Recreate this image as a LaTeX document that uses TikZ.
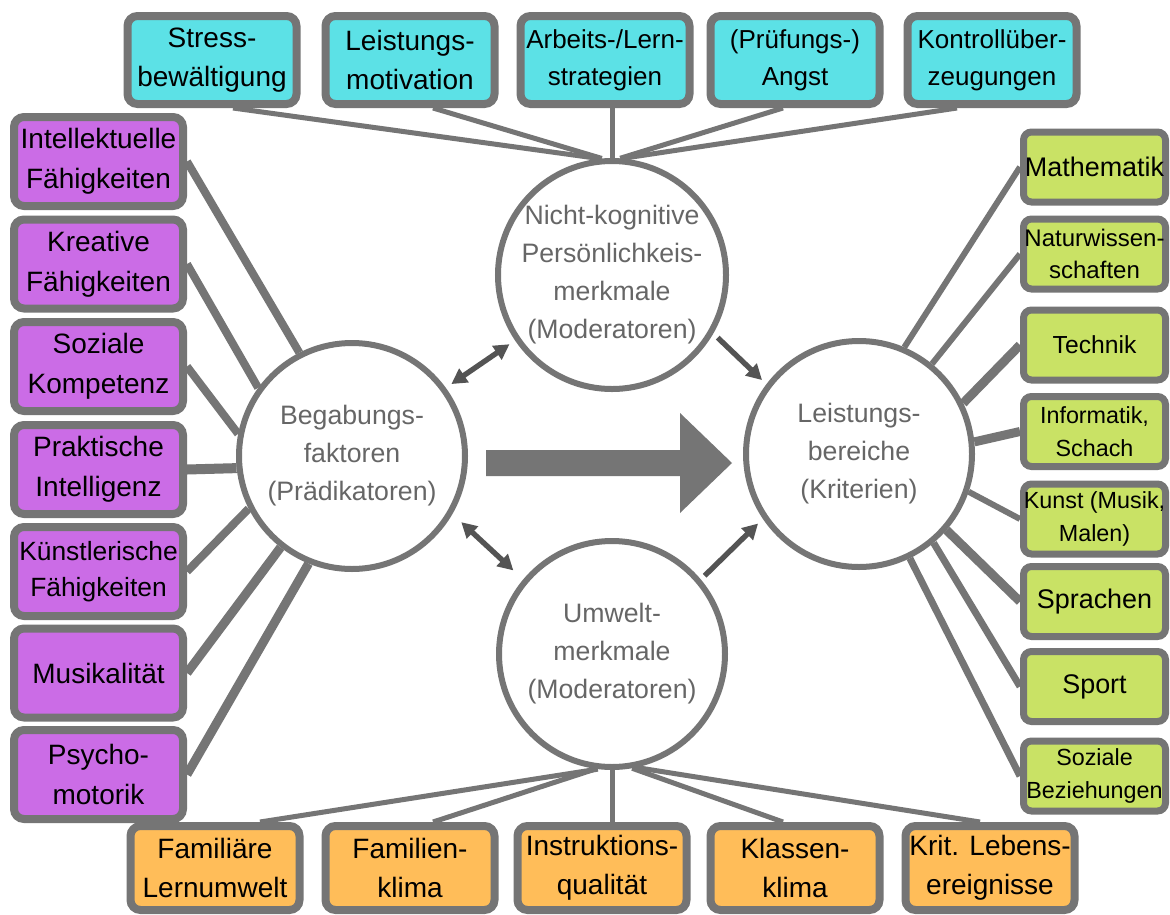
\documentclass[tikz,border=0pt]{standalone}
\usepackage{fontspec}
\setmainfont{Liberation Sans}
\usetikzlibrary{arrows.meta,backgrounds,calc}

\definecolor{edge}{HTML}{757575}
\definecolor{arrowgrey}{HTML}{545454}
\definecolor{circtext}{HTML}{666666}
\definecolor{cyanbox}{HTML}{5CE1E6}
\definecolor{violetbox}{HTML}{CB6CE6}
\definecolor{limebox}{HTML}{C9E265}
\definecolor{orangebox}{HTML}{FFBD59}

\begin{document}
\begin{tikzpicture}[x=0.75pt,y=-0.75pt,
  box/.style={draw=edge, line width=6pt, rounded corners=7.5pt, align=center,
    inner sep=0pt, minimum width=126.75pt, minimum height=66pt, text=black,
    font=\fontsize{21pt}{29pt}\selectfont},
  topbox/.style={box, fill=cyanbox},
  leftbox/.style={box, fill=violetbox, minimum height=66.75pt, font=\fontsize{21pt}{30pt}\selectfont},
  botbox/.style={box, fill=orangebox, minimum height=63pt},
  rightbox/.style={box, fill=limebox, line width=5.25pt, rounded corners=6pt,
    minimum width=106.5pt, minimum height=52.5pt},
  smallA/.style={font=\fontsize{19.5pt}{28pt}\selectfont},
  smallB/.style={font=\fontsize{20.2pt}{25pt}\selectfont},
  smallC/.style={font=\fontsize{17.5pt}{25pt}\selectfont},
  smallD/.style={font=\fontsize{18pt}{24.5pt}\selectfont},
  hub/.style={circle, draw=edge, line width=4.5pt, fill=white, minimum size=169.5pt,
    inner sep=0pt, align=center, text=circtext, font=\fontsize{20pt}{28.5pt}\selectfont},
  spoke/.style={draw=edge, line width=3.75pt},
  ray/.style={draw=edge, line width=6pt},
  duo/.style={draw=arrowgrey, line width=4pt}
]
\useasboundingbox (0,0) rectangle (1170,914);

% central hubs
\node[hub] (beg) at (352,456) {Begabungs-\\faktoren\\(Prädikatoren)};
\node[hub] (nk) at (612,275) {Nicht-kognitive\\Persönlichkeis-\\merkmale\\(Moderatoren)};
\node[hub] (um) at (612,654) {Umwelt-\\merkmale\\(Moderatoren)};
\node[hub] (leist) at (859,454) {Leistungs-\\bereiche\\(Kriterien)};

% non-cognitive traits (top row)
\node[topbox] (t1) at (212,60) {Stress-\\bewältigung};
\node[topbox] (t2) at (410,60) {Leistungs-\\motivation};
\node[topbox, smallA] (t3) at (605,60) {Arbeits-/Lern-\\strategien};
\node[topbox, smallA] (t4) at (795,60) {(Prüfungs-)\\Angst};
\node[topbox, smallA] (t5) at (992,60) {Kontrollüber-\\zeugungen};

% talent factors (left column)
\node[leftbox] (l1) at (98.5,161.5) {Intellektuelle\\Fähigkeiten};
\node[leftbox] (l2) at (98.5,264) {Kreative\\Fähigkeiten};
\node[leftbox] (l3) at (98.5,366.5) {Soziale\\Kompetenz};
\node[leftbox] (l4) at (98.5,469.5) {Praktische\\Intelligenz};
\node[leftbox, font=\fontsize{19.8pt}{27.5pt}\selectfont] (l5) at (98.5,571.5) {Künstlerische\\Fähigkeiten};
\node[leftbox] (l6) at (98.5,673) {Musikalität};
\node[leftbox] (l7) at (98.5,774.5) {Psycho-\\motorik};

% environment (bottom row)
\node[botbox] (b1) at (215,868) {Familiäre\\Lernumwelt};
\node[botbox] (b2) at (410,868) {Familien-\\klima};
\node[botbox] (b3) at (602,868) {Instruktions-\\qualität};
\node[botbox] (b4) at (795,868) {Klassen-\\klima};
\node[botbox] (b5) at (990,868) {Krit. Lebens-\\ereignisse};

% performance domains (right column)
\node[rightbox, smallB] (r1) at (1094.5,167) {Mathematik};
\node[rightbox, smallD] (r2) at (1094.5,254) {Naturwissen-\\schaften};
\node[rightbox, font=\fontsize{18.5pt}{25pt}\selectfont] (r3) at (1094.5,345) {Technik};
\node[rightbox, smallC] (r4) at (1094.5,431.5) {Informatik,\\Schach};
\node[rightbox, smallC] (r5) at (1094.5,519) {Kunst (Musik,\\Malen)};
\node[rightbox, smallB] (r6) at (1094.5,601.5) {Sprachen};
\node[rightbox, smallB] (r7) at (1094.5,686.5) {Sport};
\node[rightbox, smallC] (r8) at (1094.5,776) {Soziale\\Beziehungen};

% main effect
\fill[edge] (486,450) -- (680,450) -- (680,413) -- (732,463) -- (680,513)
  -- (680,476) -- (486,476) -- cycle;

% moderator arrows
\draw[duo, {Triangle[length=11.5pt,width=12pt]}-{Triangle[length=11.5pt,width=12pt]},
  shorten <=5pt, shorten >=5pt] (beg.36) -- (nk.214);
\draw[duo, {Triangle[length=11.5pt,width=12pt]}-{Triangle[length=11.5pt,width=12pt]},
  shorten <=9pt, shorten >=10pt] (beg.-30) -- (um.140);
\draw[duo, -{Triangle[length=11.5pt,width=12pt]}, shorten <=4.5pt, shorten >=4.5pt]
  (nk.-30) -- (leist.143.5);
\draw[duo, -{Triangle[length=11.5pt,width=12pt]}, shorten <=4pt, shorten >=5pt]
  (um.40) -- (leist.214.5);

\begin{scope}[on background layer]
  \fill[white] (0,0) rectangle (1170,914);
  % top spokes
  \draw[spoke] (nk.96) -- ($(t1.south)+(21,0)$);
  \draw[spoke] (nk.95) -- ($(t2.south)+(23,0)$);
  \draw[spoke] (nk.north) -- (nk.north |- t3.south);
  \draw[spoke] (nk.86) -- ($(t4.south)+(-12,0)$);
  \draw[spoke] (nk.85) -- ($(t5.south)+(-35,0)$);
  % bottom spokes
  \draw[spoke] (um.263) -- ($(b1.north)+(45,0)$);
  \draw[spoke] (um.262) -- ($(b2.north)+(23,0)$);
  \draw[spoke] (um.south) -- (um.south |- b3.north);
  \draw[spoke] (um.280) -- ($(b4.north)+(-12,0)$);
  \draw[spoke] (um.282) -- ($(b5.north)+(-10,0)$);
  % left rays
  \draw[ray] (l1.east) -- (beg.117);
  \draw[ray] (l2.east) -- (beg.144);
  \draw[ray] (l3.east) -- (beg.169);
  \draw[ray, line width=7.5pt] (l4.east) -- (beg.186);
  \draw[ray] (l5.east) -- (beg.207);
  \draw[ray, line width=6.75pt] (l6.east) -- (beg.232);
  \draw[ray, line width=6.75pt] (l7.east) -- (beg.248);
  % right rays
  \draw[ray, line width=4.5pt] (r1.west) -- (leist.67.5);
  \draw[ray, line width=4.5pt] (r2.west) -- (leist.51);
  \draw[ray, line width=6.75pt] (r3.west) -- (leist.26);
  \draw[ray, line width=6.75pt] (r4.west) -- (leist.6);
  \draw[ray, line width=4.5pt] (r5.west) -- (leist.-19);
  \draw[ray, line width=6.75pt] (r6.west) -- (leist.-41.5);
  \draw[ray, line width=5.25pt] (r7.west) -- (leist.-50);
  \draw[ray, line width=5.25pt] (r8.west) -- (leist.-64);
\end{scope}
\end{tikzpicture}
\end{document}
